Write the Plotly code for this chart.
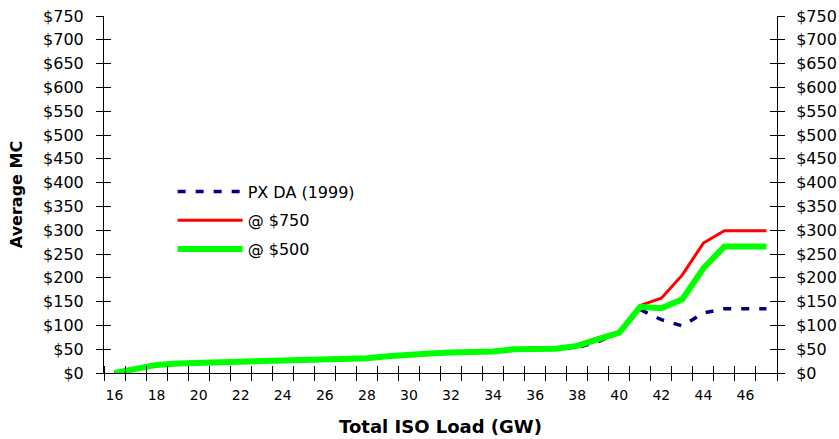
import plotly.graph_objects as go

load_gw = list(range(16, 48))
px_da_1999 = [0, 9, 17, 20, 21, 22, 23, 25, 25, 26, 28, 28, 31, 35, 39, 41, 43, 43, 45, 50, 50, 51,
              53, 66, 85, 133, 112, 99, 126, 135, 135, 135]
cap_750 = [0, 9, 17, 20, 21, 22, 23, 25, 25, 26, 28, 28, 31, 35, 39, 41, 43, 43, 45, 50, 50, 51,
           59, 74, 86, 142, 157, 206, 273, 299, 299, 299]
cap_500 = [0, 9, 17, 20, 21, 22, 23, 25, 25, 26, 28, 28, 31, 35, 39, 41, 43, 43, 45, 50, 50, 51,
           57, 70, 85, 139, 136, 155, 220, 266, 266, 266]

x_tick_vals = list(range(16, 47, 2))
x_tick_text = [str(v) for v in x_tick_vals]
y_tick_vals = list(range(0, 751, 50))
y_tick_text = ["$" + str(v) for v in y_tick_vals]

FONT = "DejaVu Sans, Liberation Sans, Arial, sans-serif"

fig = go.Figure()
fig.add_trace(go.Scatter(x=load_gw, y=px_da_1999, mode="lines", name="PX DA (1999)",
                         line=dict(color="#000080", width=3.5, dash="8px,10px"), legendgroup="a"))
fig.add_trace(go.Scatter(x=load_gw, y=cap_750, mode="lines", name="@ $750",
                         line=dict(color="#FF0000", width=3), legendgroup="b"))
fig.add_trace(go.Scatter(x=load_gw, y=cap_500, mode="lines", name="@ $500",
                         line=dict(color="#00FF00", width=6), legendgroup="c"))
# invisible carriers so the secondary (tick-only / right-label) axes are always drawn
for xa, ya in [("x", "y2"), ("x", "y3"), ("x", "y4"), ("x2", "y")]:
    fig.add_trace(go.Scatter(x=load_gw, y=cap_750, mode="none", xaxis=xa, yaxis=ya,
                             showlegend=False, hoverinfo="skip"))

xr = [15.5, 47.5]
yr = [0, 750]

fig.update_layout(
    width=839, height=439,
    margin=dict(l=104, r=62, t=16, b=66, autoexpand=False),
    paper_bgcolor="white", plot_bgcolor="white",
    font=dict(family=FONT, color="black", size=14),
    showlegend=True,
    legend=dict(x=0.102, y=0.556, xanchor="left", yanchor="top",
                bgcolor="rgba(0,0,0,0)", font=dict(size=16, family=FONT),
                itemwidth=65, traceorder="grouped", tracegroupgap=5),
    xaxis=dict(range=xr, tickmode="array", tickvals=x_tick_vals, ticktext=x_tick_text,
               ticks="", showgrid=False, zeroline=False, automargin=False,
               showline=True, linecolor="black", linewidth=1, ticklabeloverflow="allow",
               tickfont=dict(size=14), ticklabelstandoff=9,
               minor=dict(tick0=15.5, dtick=1, ticks="outside", ticklen=7, tickcolor="black",
                          tickwidth=1, showgrid=False),
               title=dict(text="<b>Total ISO Load (GW)</b>", font=dict(size=18), standoff=18)),
    xaxis2=dict(range=xr, overlaying="x", anchor="y", side="bottom", showticklabels=False,
                ticks="", showgrid=False, zeroline=False, showline=False, automargin=False,
                minor=dict(tick0=15.5, dtick=1, ticks="inside", ticklen=7, tickcolor="black",
                           tickwidth=1, showgrid=False)),
    yaxis=dict(range=yr, tickmode="array", tickvals=y_tick_vals, ticktext=y_tick_text,
               ticks="outside", ticklen=7, tickcolor="black", showgrid=False, zeroline=False,
               showline=True, linecolor="black", linewidth=1, tickfont=dict(size=16),
               ticklabelstandoff=9, automargin=False, ticklabeloverflow="allow",
               title=dict(text="<b>Average MC</b>", font=dict(size=16), standoff=16)),
    yaxis2=dict(range=yr, overlaying="y", anchor="x", side="right", tickmode="array",
                tickvals=y_tick_vals, ticktext=y_tick_text, ticks="outside", ticklen=7,
                tickcolor="black", showgrid=False, zeroline=False, showline=True,
                linecolor="black", linewidth=1, tickfont=dict(size=16), ticklabelstandoff=8,
                automargin=False, ticklabeloverflow="allow"),
    yaxis3=dict(range=yr, overlaying="y", anchor="x", side="left", tickmode="array",
                tickvals=y_tick_vals, ticks="inside", ticklen=7, tickcolor="black",
                showticklabels=False, showgrid=False, zeroline=False, showline=False,
                automargin=False),
    yaxis4=dict(range=yr, overlaying="y", anchor="x", side="right", tickmode="array",
                tickvals=y_tick_vals, ticks="inside", ticklen=7, tickcolor="black",
                showticklabels=False, showgrid=False, zeroline=False, showline=False,
                automargin=False),
)

# remove the browser's default 8px body margin so the figure sits at the window origin
fig.write_html("out.html", config={"displayModeBar": False},
               post_script="document.body.style.margin='0px';")
